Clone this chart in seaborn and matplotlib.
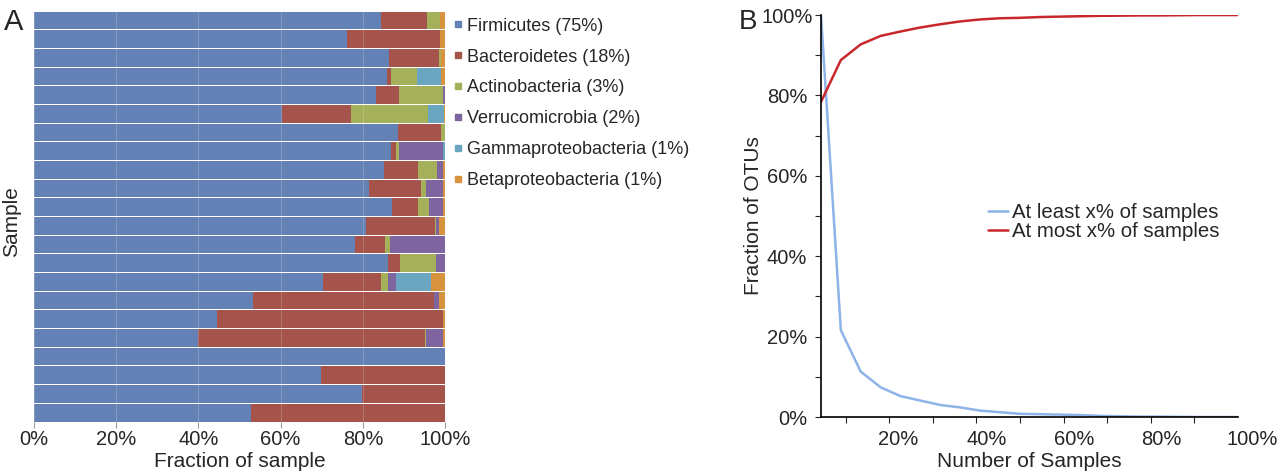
import numpy as np
import pandas as pd
import seaborn as sns
import matplotlib.pyplot as plt
import matplotlib.transforms as mtrans
from matplotlib.lines import Line2D

sns.set_style("white")
plt.rcParams['font.family'] = ['Liberation Sans', 'DejaVu Sans']

# --- Panel A data: phylum fraction per sample (%), top bar first ---
samples = ['S%d' % i for i in range(1, 23)]
phyla = ['Firmicutes (75%)', 'Bacteroidetes (18%)', 'Actinobacteria (3%)',
         'Verrucomicrobia (2%)', 'Gammaproteobacteria (1%)', 'Betaproteobacteria (1%)']
phylum_colors = ['#6381b5', '#a5534b', '#a4b05a', '#7f659f', '#6aa6c0', '#d9933f']

firmicutes = [84.3, 76.2, 86.3, 85.8, 83.1, 60.4, 88.5, 86.9, 85.1, 81.6, 87.2,
              80.8, 78.1, 86.2, 70.2, 53.2, 44.6, 40.0, 100.0, 69.7, 79.8, 52.9]
bacteroidetes = [11.4, 22.6, 12.2, 1.1, 5.7, 16.7, 10.6, 1.1, 8.4, 12.6, 6.2,
                 16.7, 7.2, 2.9, 14.3, 44.0, 54.8, 55.0, 0.0, 30.3, 20.2, 47.1]
actinobacteria = [3.1, 0.0, 0.4, 6.2, 10.7, 18.8, 0.9, 0.9, 4.5, 1.2, 2.6,
                  0.3, 1.2, 8.8, 1.7, 0.0, 0.0, 0.4, 0.0, 0.0, 0.0, 0.0]
verrucomicrobia = [0.0, 0.0, 0.0, 0.0, 0.5, 0.0, 0.0, 10.6, 1.6, 4.2, 3.4,
                   0.8, 13.5, 2.1, 1.9, 1.3, 0.0, 4.2, 0.0, 0.0, 0.0, 0.0]
gammaproteo = [0.0, 0.0, 0.0, 6.0, 0.0, 3.9, 0.0, 0.5, 0.0, 0.0, 0.0,
               0.0, 0.0, 0.0, 8.4, 0.0, 0.0, 0.0, 0.0, 0.0, 0.0, 0.0]
betaproteo = [1.2, 1.2, 1.1, 0.9, 0.0, 0.2, 0.0, 0.0, 0.4, 0.4, 0.6,
              1.4, 0.0, 0.0, 3.5, 1.5, 0.6, 0.4, 0.0, 0.0, 0.0, 0.0]

# --- Panel B data: fraction of OTUs vs number of samples ---
n_samples = list(range(22))
at_least = [100.0, 21.6, 11.3, 7.4, 5.2, 4.1, 3.0, 2.4, 1.6, 1.2, 0.8,
            0.7, 0.6, 0.5, 0.3, 0.2, 0.1, 0.1, 0.05, 0.0, 0.0, 0.0]
at_most = [78.4, 88.8, 92.7, 94.8, 95.9, 96.9, 97.7, 98.4, 98.9, 99.2, 99.3,
           99.5, 99.6, 99.7, 99.8, 99.85, 99.9, 99.9, 99.95, 100.0, 100.0, 100.0]
line_labels = ['At least x% of samples', 'At most x% of samples']
line_colors = ['#8db3e8', '#c8282c']

x_labels = ['0%', '20%', '40%', '60%', '80%', '100%']
y_labels = ['0%', '20%', '40%', '60%', '80%', '100%']

fig = plt.figure(figsize=(12.8, 4.76), dpi=100)
ax = fig.add_axes([0.0266, 0.1134, 0.3211, 0.8635])
ax2 = fig.add_axes([0.6414, 0.1239, 0.3258, 0.8445])

# stacked horizontal bars
comp = pd.DataFrame(dict(zip(phyla, [firmicutes, bacteroidetes, actinobacteria,
                                      verrucomicrobia, gammaproteo, betaproteo])),
                    index=samples)
cum = comp.cumsum(axis=1)
for name, col in reversed(list(zip(phyla, phylum_colors))):
    sns.barplot(x=cum[name].values, y=samples, orient='h', color=col,
                saturation=1, width=0.945, linewidth=0, ax=ax)

ax.set_xlim(0, 100)
ax.set_xticks([0, 20, 40, 60, 80, 100])
ax.set_xticklabels(x_labels)
ax.set_yticks([])
ax.set_ylabel('')
ax.set_xlabel('Fraction of sample', fontsize=15)
ax.xaxis.set_label_coords(0.5, -0.072)
ax.tick_params(axis='x', labelsize=14.5, length=4, color='#999999', pad=2, bottom=True)
for s in ax.spines.values():
    s.set_visible(False)
ax.grid(axis='x', color='white', alpha=0.18, lw=0.8)
ax.set_axisbelow(False)

handles = [Line2D([], [], marker='s', ls='', color=c, markersize=5) for c in phylum_colors]
ax.legend(handles, phyla, loc='upper left', bbox_to_anchor=(1.005, 0.997),
          frameon=False, fontsize=13, handlelength=0.6, handletextpad=0.2,
          labelspacing=0.77, borderaxespad=0, borderpad=0.3)

fig.text(12 / 1280, 1 - 222 / 476, 'Sample', rotation=90, ha='center', va='center', fontsize=15)
fig.text(4 / 1280, 1 - 22 / 476, 'A', ha='left', va='center', fontsize=21)

# line chart
otu = pd.DataFrame({'x': n_samples * 2, 'value': at_least + at_most,
                    'series': [line_labels[0]] * 22 + [line_labels[1]] * 22})
sns.lineplot(data=otu, x='x', y='value', hue='series', palette=line_colors,
             linewidth=1.8, ax=ax2, legend=False)
ax2.set_xlim(0, 21)
ax2.set_ylim(0, 100)
ax2.set_yticks([0, 20, 40, 60, 80, 100])
ax2.set_yticklabels(y_labels)
ax2.set_yticks([10, 30, 50, 70, 90], minor=True)
ax2.set_xticks([3.9, 8.35, 12.73, 17.14, 21.0])
ax2.set_xticklabels(x_labels[1:])
ax2.set_xticks([1.24, 3.44, 5.63, 7.83, 10.02, 12.22, 14.41, 16.61, 18.8], minor=True)
ax2.tick_params(axis='y', which='both', left=True, length=4, width=0.8, pad=6, labelsize=14.5)
ax2.tick_params(axis='x', which='major', bottom=True, length=0, pad=9, labelsize=14.5)
ax2.tick_params(axis='x', which='minor', bottom=True, length=4, width=0.8)
lbl = ax2.get_xticklabels()[-1]
lbl.set_transform(lbl.get_transform() + mtrans.ScaledTranslation(14 / 100, 0, fig.dpi_scale_trans))
top_lbl = ax2.get_yticklabels()[-1]
top_lbl.set_transform(top_lbl.get_transform() + mtrans.ScaledTranslation(6 / 100, 0, fig.dpi_scale_trans))
for side in ['top', 'right']:
    ax2.spines[side].set_visible(False)
for side in ['left', 'bottom']:
    ax2.spines[side].set_color('black')
    ax2.spines[side].set_linewidth(1.2)
ax2.set_xlabel('Number of Samples', fontsize=15)
ax2.set_ylabel('Fraction of OTUs', fontsize=15)
ax2.xaxis.set_label_coords(0.5, -0.088)
ax2.yaxis.set_label_coords(-0.14, 0.5)

lh = [Line2D([], [], color=c, lw=1.8) for c in line_colors]
ax2.legend(lh, line_labels, loc='center left', bbox_to_anchor=(0.40, 0.485),
           frameon=False, fontsize=14.7, handlelength=1.0, handletextpad=0.2,
           labelspacing=0.0, borderaxespad=0, borderpad=0)

fig.text(739 / 1280, 1 - 22 / 476, 'B', ha='left', va='center', fontsize=20)

plt.savefig('out.png', dpi=100)
